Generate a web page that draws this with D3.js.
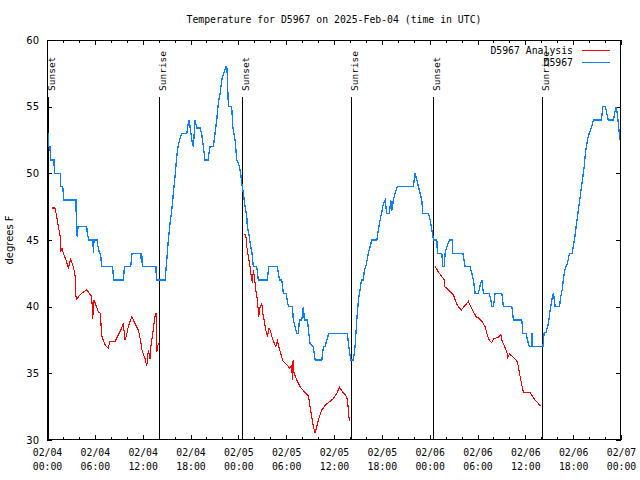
<!DOCTYPE html>
<html><head><meta charset="utf-8">
<script src="https://cdn.jsdelivr.net/npm/d3@7"></script>
<style>body{margin:0;background:#fff}</style>
</head><body><svg id="c" width="640" height="480"></svg>
<script>
// ---- data (hours since 2025-02-04 00:00 UTC) ----
const blueHours = [0.16,0.23,0.38,0.44,0.88,0.92,1.72,1.74,1.97,2.13,3.64,3.68,3.80,3.89,4.98,5.06,5.23,5.77,5.81,5.90,6.27,6.40,6.59,6.71,6.86,8.24,8.34,9.57,9.72,10.50,10.66,11.76,11.82,11.88,11.96,13.68,13.71,14.81,
15.02,15.22,15.43,15.65,15.85,16.06,16.27,16.47,16.69,16.90,17.53,17.73,17.85,17.94,18.16,18.36,18.57,18.78,19.20,19.41,19.61,19.82,20.20,20.45,20.87,21.08,21.29,21.49,21.71,21.92,22.21,22.46,22.55,22.62,22.75,23.17,23.30,23.59,23.80,24.00,24.30,24.43,24.63,24.84,25.06,25.13,25.31,25.56,25.72,25.88,26.31,26.51,27.64,27.82,28.90,29.15,29.45,29.65,29.99,30.28,30.78,30.90,31.12,31.33,31.53,31.66,31.96,32.16,32.28,32.66,32.84,33.00,33.41,33.63,34.47,34.67,34.88,35.09,35.35,37.68,37.85,38.11,38.43,38.64,38.86,39.06,39.27,39.44,39.69,39.81,40.03,40.31,40.53,40.74,41.37,41.57,41.78,42.00,42.20,42.41,42.62,42.95,43.12,43.25,43.45,43.66,43.95,45.96,46.17,46.39,46.59,46.80,47.01,47.14,47.84,48.06,48.27,48.47,48.90,48.97,49.52,49.65,49.81,49.94,50.15,50.48,50.82,50.85,52.16,52.45,53.07,53.29,53.49,53.70,54.12,54.33,54.54,54.74,55.46,55.67,55.80,56.00,56.21,57.05,57.25,58.31,58.51,59.56,59.69,60.10,60.26,60.52,60.73,60.82,60.94,62.20,62.36,62.61,62.90,63.11,63.32,63.53,63.74,64.28,64.45,64.62,64.78,64.96,65.12,65.28,65.53,65.87,66.04,66.21,66.37,66.54,66.71,66.88,67.04,67.22,67.38,67.54,67.72,67.88,68.04,68.29,68.54,69.55,69.72,70.05,70.22,70.39,71.05,71.27,71.39,71.55,71.73,71.89,71.98];
const blueTemps = [53,52,52,51,51,50,50,49,49,48,48,46,45.2,46,46,45.5,45,45,44,45,45,44.5,44,44,43,43,42,42,43,43,44,44,43.5,44,43,43,42,42,
43.5,45,46.25,47.25,48.5,49.75,51.25,52.1,52.6,53,53,53.75,54,53.5,52.5,52,54,53.4,53.4,52.9,52,51,51,52,52,53,54,55.25,56,57,57.6,58,58,57.3,55,55,53.5,52.5,51,50.8,50,49.25,48.5,47.5,46.75,46,45.5,44.5,44,43,43,42,42,43,43,42,42,41,41,40,40,39,38.5,38,38,39,39,40,39,39,38,37.25,37,36,36,37,37,37.5,38,38,37,36,36,37,39,40.5,41.25,42,42,42.75,43.1,44,44.5,45,45,45.75,46.5,47.1,47.75,48,47,47,48,47.2,48,48.5,49,49,50,49.5,49,48.5,48,47,47,46.5,45.75,45,45,44,44,43,43,44,44.5,45,45,44,44,43,43,42.5,42,41,41,41.6,42,41,41,40.5,40,40,41,41,40,40,39,39,38,38,37.5,37,37,38,37,37,38,38.1,38.75,39.75,40.5,41,40,40,40.75,41.25,42.1,42.75,43.05,43.25,44,44,44.6,45.25,46,46.75,47.5,48.25,49,49.75,50.5,51.5,52.25,52.75,53.05,53.4,54,54,55,55,54.5,54,54,54.7,55,54.4,53.3,52.5,52];

// analysis series: null marks a gap between nightly runs
const redHours = [0.66,1.00,1.22,1.42,1.63,1.72,1.88,2.05,2.38,2.67,2.97,3.30,3.51,3.64,3.73,4.35,4.98,5.61,5.73,5.90,6.15,6.44,6.74,6.81,7.06,7.31,7.69,7.90,8.53,8.95,9.37,9.57,9.79,10.00,10.20,10.63,11.04,11.46,11.76,11.88,12.30,12.51,12.71,12.92,13.01,13.26,13.55,13.68,13.76,13.96,
19.0,
24.76,24.93,25.06,25.26,25.47,25.63,25.76,25.88,26.01,26.19,26.39,26.56,26.73,26.94,27.06,27.23,27.44,27.64,27.85,28.07,28.27,28.52,28.70,28.90,29.11,29.32,29.57,30.15,30.40,30.70,30.78,30.87,30.99,31.33,31.74,32.16,32.58,32.79,33.00,33.21,33.41,33.63,33.84,34.04,34.25,34.47,34.88,35.51,35.92,36.35,36.68,36.85,37.10,37.39,37.60,37.73,37.93,
43.0,
48.68,49.10,49.52,49.85,49.90,50.35,50.78,50.98,51.19,51.48,51.73,51.98,52.45,52.86,53.07,53.49,53.83,54.24,54.54,54.96,55.17,55.46,55.80,56.00,56.63,56.93,57.05,57.47,57.68,57.80,58.01,58.51,58.93,59.13,59.35,59.56,59.76,60.60,60.94,61.23,61.61,61.91];
const redTemps = [47.4,47.4,46.75,46,45.4,44.1,44.4,44,43.5,42.9,43.55,43,42.4,40.75,40.6,41,41.25,40.75,39.1,40.5,40.1,39.6,39.5,37.9,37.5,37.1,36.9,37.4,37.4,37.9,38.4,38.75,37.5,37.9,38.5,39.25,38.75,38.25,37.4,36.8,36.1,35.55,36.75,36.1,36.9,38,39.25,39.55,36.6,37.25,
null,
45.4,45.4,44.5,43.75,43,42.25,41.75,42.75,42.25,41.25,40.5,39.25,40,40.25,39.5,39,38.25,37.75,38.4,38.1,37.6,37.25,37,37.4,36.9,36.5,35.95,35.6,35.4,35.6,34.5,36,35,34.5,34,33.7,33.45,33.3,32.5,31.75,31,30.5,31,31.5,31.9,32.25,32.6,32.9,33.1,33.5,33.95,33.8,33.6,33.4,33.25,32.75,31.4,
null,
43,42.6,42.25,42,41.5,41.25,41,40.9,40.5,40.1,39.9,39.75,40.1,40.4,40.1,39.6,39.25,39.1,38.9,38.5,38,37.5,37.3,37.6,37.7,37.9,37.5,36.9,36.6,36.2,36.45,36.2,35.95,35.5,34.75,34.1,33.6,33.55,33.25,33,32.75,32.55];

const sunHours = [0.13, 14.09, 24.40, 38.14, 48.47, 62.15];
const sunLabels = ["Sunset","Sunrise","Sunset","Sunrise","Sunset","Sunrise"];
const yTicks = [30,35,40,45,50,55,60];
const seriesNames = ["D5967 Analysis","D5967"];
const seriesColors = ["#ff0000","#0a80ff"];
const titleText = "Temperature for D5967 on 2025-Feb-04 (time in UTC)";
const yLabel = "degrees F";

// ---- drawing ----
const t0 = Date.UTC(2025,1,4), t1 = Date.UTC(2025,1,7);
const toDate = h => new Date(t0 + h*3600e3);
const L=47, R=621, T=40, B=440;
const x = d3.scaleUtc().domain([t0,t1]).range([L,R]);
const y = d3.scaleLinear().domain([30,60]).range([B,T]);
const svg = d3.select("#c");
const mono = "'DejaVu Sans Mono','Liberation Mono',monospace";
const sans = "'DejaVu Sans',Verdana,sans-serif";

svg.append("text").attr("x",(L+R)/2).attr("y",23).attr("text-anchor","middle")
  .style("font-family",mono).style("font-size","9.8px").text(titleText);

svg.append("text").attr("transform",`translate(13,${(T+B)/2}) rotate(-90)`).attr("text-anchor","middle")
  .style("font-family",sans).style("font-size","10px").text(yLabel);

const major = d3.utcHour.every(6).range(new Date(t0), new Date(t1+1));
const minor = d3.utcHour.every(2).range(new Date(t0), new Date(t1+1)).filter(d=>d.getUTCHours()%6);

function styleAxis(g){ g.select(".domain").remove(); g.selectAll("line").attr("stroke","#000").attr("shape-rendering","crispEdges"); }

const fmtD = d3.utcFormat("%m/%d"), fmtT = d3.utcFormat("%H:%M");
const xb = svg.append("g").attr("transform",`translate(0,${B})`)
  .call(d3.axisBottom(x).tickValues(major).tickSizeInner(-5).tickSizeOuter(0).tickPadding(0).tickFormat(""))
  .call(styleAxis);
xb.selectAll(".tick").append("text").attr("fill","#000").attr("text-anchor","middle")
  .style("font-family",mono).style("font-size","9.8px")
  .each(function(d){ const s=d3.select(this);
    s.append("tspan").attr("x",0).attr("y",16).text(fmtD(d));
    s.append("tspan").attr("x",0).attr("y",30).text(fmtT(d)); });
svg.append("g").attr("transform",`translate(0,${B})`)
  .call(d3.axisBottom(x).tickValues(minor).tickSizeInner(-3).tickSizeOuter(0).tickFormat("")).call(styleAxis);
svg.append("g").attr("transform",`translate(0,${T})`)
  .call(d3.axisTop(x).tickValues(major).tickSizeInner(-5).tickSizeOuter(0).tickFormat("")).call(styleAxis);
svg.append("g").attr("transform",`translate(0,${T})`)
  .call(d3.axisTop(x).tickValues(minor).tickSizeInner(-3).tickSizeOuter(0).tickFormat("")).call(styleAxis);

const yl = svg.append("g").attr("transform",`translate(${L},0)`)
  .call(d3.axisLeft(y).tickValues(yTicks).tickSizeInner(-5).tickSizeOuter(0).tickPadding(8).tickFormat(d3.format("d")))
  .call(styleAxis);
yl.selectAll("text").style("font-family",sans).style("font-size","10px").attr("fill","#000");
svg.append("g").attr("transform",`translate(${R},0)`)
  .call(d3.axisRight(y).tickValues(yTicks).tickSizeInner(-5).tickSizeOuter(0).tickFormat("")).call(styleAxis);

// sunrise/sunset markers
const sun = svg.append("g");
sunHours.forEach((h,i)=>{
  const sx = Math.round(x(toDate(h)))+0.5;
  sun.append("line").attr("x1",sx).attr("x2",sx).attr("y1",97).attr("y2",B)
    .attr("stroke","#000").attr("shape-rendering","crispEdges");
  sun.append("text").attr("transform",`translate(${sx+6},91) rotate(-90)`)
    .style("font-family",mono).style("font-size","9.5px").text(sunLabels[i]);
});

// series
const redData = redHours.map((h,i)=>({t:toDate(h), v:redTemps[i]}));
const blueData = blueHours.map((h,i)=>({t:toDate(h), v:blueTemps[i]}));
const line = d3.line().defined(d=>d.v!=null).x(d=>x(d.t)).y(d=>y(d.v));
svg.append("path").datum(redData).attr("d",line).attr("fill","none")
  .attr("stroke",seriesColors[0]).attr("stroke-width",1.1).attr("shape-rendering","crispEdges");
svg.append("path").datum(blueData).attr("d",line).attr("fill","none")
  .attr("stroke",seriesColors[1]).attr("stroke-width",1.3).attr("shape-rendering","crispEdges");

// frame
svg.append("rect").attr("x",L+0.5).attr("y",T+0.5).attr("width",R-L-1).attr("height",B-T-1)
  .attr("fill","none").attr("stroke","#000").attr("shape-rendering","crispEdges");

// legend
seriesNames.forEach((n,i)=>{
  const ly = 50 + i*12;
  svg.append("text").attr("x",573).attr("y",ly+3.5).attr("text-anchor","end")
    .style("font-family",mono).style("font-size","9.8px").text(n);
  svg.append("line").attr("x1",582).attr("x2",610).attr("y1",ly+0.5).attr("y2",ly+0.5)
    .attr("stroke",seriesColors[i]).attr("shape-rendering","crispEdges");
});
</script></body></html>
